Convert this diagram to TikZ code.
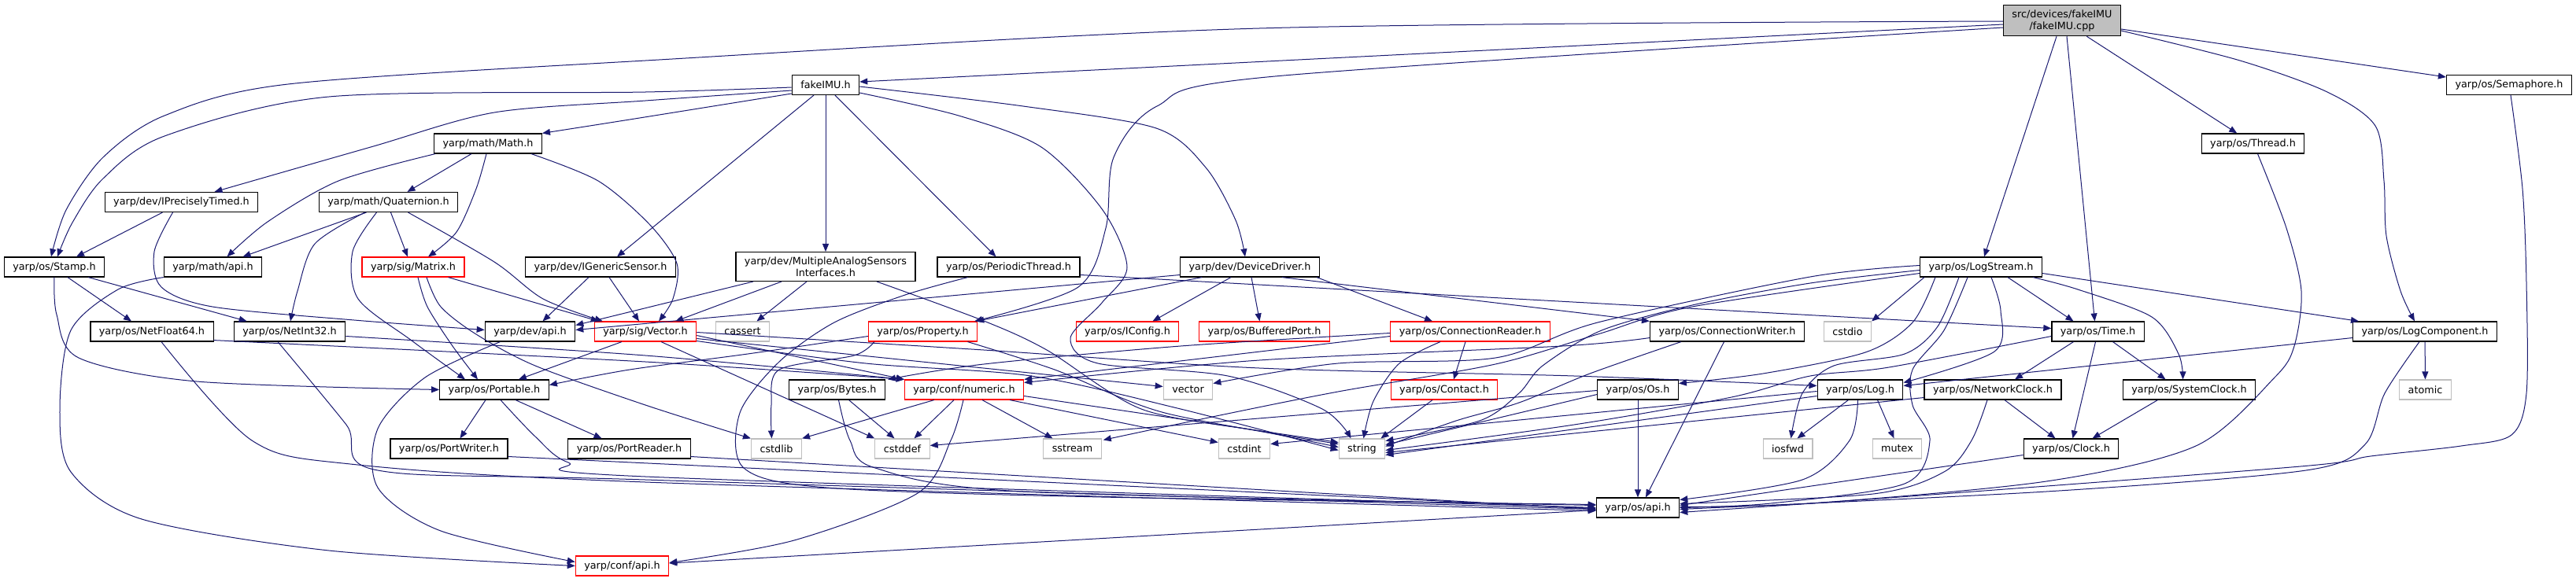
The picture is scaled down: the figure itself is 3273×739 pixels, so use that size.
\documentclass[tikz,border=0pt]{standalone}
\usepackage{fontspec}
\setmainfont{DejaVu Sans}
\usetikzlibrary{arrows.meta,calc}
\definecolor{edgeblue}{RGB}{25,25,112}
\definecolor{truncred}{RGB}{255,0,0}
\definecolor{sysgray}{RGB}{191,191,191}
\tikzset{
  hdr/.style={draw=black, line width=0.35mm, fill=white, minimum height=7.5mm,
    inner xsep=3.3mm, inner ysep=1.8mm, align=center,
    font=\fontsize{10.9}{12.8}\selectfont},
  trunc/.style={hdr, draw=truncred},
  sys/.style={hdr, draw=sysgray},
  mainfile/.style={hdr, fill=sysgray},
  dep/.style={draw=edgeblue, line width=0.3mm, -{Triangle[length=3mm,width=2.4mm]}},
}

\begin{document}
\begin{tikzpicture}[x=0.3mm,y=-0.3mm]
\useasboundingbox (0,0) rectangle (3273,739);
% rows of headers
\node[mainfile] (main) at (2620,26) {src/devices/fakeIMU\\/fakeIMU.cpp};
\node[hdr] (fakeimu) at (1049,108) {fakeIMU.h};
\node[hdr] (semaphore) at (3188,108) {yarp/os/Semaphore.h};
\node[hdr] (math) at (620,182.5) {yarp/math/Math.h};
\node[hdr] (thread) at (2862.5,182.5) {yarp/os/Thread.h};
\node[hdr] (iprecise) at (230.5,257) {yarp/dev/IPreciselyTimed.h};
\node[hdr] (quat) at (493.5,257) {yarp/math/Quaternion.h};
\node[hdr] (stamp) at (69,339.5) {yarp/os/Stamp.h};
\node[hdr] (mathapi) at (270.5,339.5) {yarp/math/api.h};
\node[trunc] (matrix) at (525,339.5) {yarp/sig/Matrix.h};
\node[hdr] (igeneric) at (763,339.5) {yarp/dev/IGenericSensor.h};
\node[hdr] (multi) at (1049,339) {yarp/dev/MultipleAnalogSensors\\Interfaces.h};
\node[hdr] (periodic) at (1281.5,339.5) {yarp/os/PeriodicThread.h};
\node[hdr] (devdriver) at (1588,339.5) {yarp/dev/DeviceDriver.h};
\node[hdr] (logstream) at (2517,339.5) {yarp/os/LogStream.h};
\node[hdr] (netfloat) at (193,421.5) {yarp/os/NetFloat64.h};
\node[hdr] (netint) at (368,421.5) {yarp/os/NetInt32.h};
\node[hdr] (devapi) at (673.5,421.5) {yarp/dev/api.h};
\node[trunc] (sigvector) at (820,421.5) {yarp/sig/Vector.h};
\node[sys] (cassert) at (943.5,421.5) {cassert};
\node[trunc] (property) at (1172.5,421.5) {yarp/os/Property.h};
\node[trunc] (iconfig) at (1432.5,421.5) {yarp/os/IConfig.h};
\node[trunc] (buffered) at (1606.5,421.5) {yarp/os/BufferedPort.h};
\node[trunc] (connreader) at (1868,421.5) {yarp/os/ConnectionReader.h};
\node[hdr] (connwriter) at (2194.5,421.5) {yarp/os/ConnectionWriter.h};
\node[sys] (cstdio) at (2347.5,421.5) {cstdio};
\node[hdr] (time) at (2665.5,421.5) {yarp/os/Time.h};
\node[hdr] (logcomp) at (3081,421.5) {yarp/os/LogComponent.h};
\node[hdr] (portable) at (628,495.5) {yarp/os/Portable.h};
\node[hdr] (bytes) at (1063.5,495.5) {yarp/os/Bytes.h};
\node[trunc] (numeric) at (1225,495.5) {yarp/conf/numeric.h};
\node[sys] (stdvector) at (1509.5,495.5) {vector};
\node[trunc] (contact) at (1835,495.5) {yarp/os/Contact.h};
\node[hdr] (os) at (2081,495.5) {yarp/os/Os.h};
\node[hdr] (log) at (2363.5,495.5) {yarp/os/Log.h};
\node[hdr] (netclock) at (2532,495.5) {yarp/os/NetworkClock.h};
\node[hdr] (sysclock) at (2781.5,495.5) {yarp/os/SystemClock.h};
\node[sys] (atomic) at (3081.5,495.5) {atomic};
\node[hdr] (portwriter) at (570.5,570.5) {yarp/os/PortWriter.h};
\node[hdr] (portreader) at (799.5,570.5) {yarp/os/PortReader.h};
\node[sys] (cstdlib) at (986.5,570.5) {cstdlib};
\node[sys] (cstddef) at (1146.5,570.5) {cstddef};
\node[sys] (sstream) at (1362.5,570.5) {sstream};
\node[sys] (cstdint) at (1581,570.5) {cstdint};
\node[sys] (string) at (1730.5,570.5) {string};
\node[sys] (iosfwd) at (2271.5,570.5) {iosfwd};
\node[sys] (mutex) at (2410.5,570.5) {mutex};
\node[hdr] (clock) at (2631.5,570.5) {yarp/os/Clock.h};
\node[hdr] (osapi) at (2081,645.5) {yarp/os/api.h};
\node[trunc] (confapi) at (790.5,719.5) {yarp/conf/api.h};

% fakeIMU.cpp
\draw[dep] ($(main.west)+(0,5)$) -- ($(fakeimu.east)+(0,-4)$);
\draw[dep] plot[smooth] coordinates {($(main.west)+(0,1)$) (1600,36) (820,77) (366,107) (209,147) (131,200) (84,267) ($(stamp.north)+(-4,0)$)};
\draw[dep] plot[smooth] coordinates {($(main.west)+(0,9)$) (1620,97) (1470,135) (1415,200) (1405,290) (1370,365) ($(property.north east)+(-4,0)$)};
\draw[dep] ($(main.south)+(-7,0)$) -- ($(logstream.north)+(4,0)$);
\draw[dep] ($(main.south)+(6,0)$) -- ($(time.north)+(-4,0)$);
\draw[dep] (main) -- (thread);
\draw[dep] plot[smooth] coordinates {($(main.east)+(0,13)$) (2846,77) (2957,117) (3018,160) (3029,230) (3032,300) (3050,370) ($(logcomp.north)+(-13,0)$)};
\draw[dep] ($(main.east)+(0,11)$) -- ($(semaphore.west)+(0,-10)$);

% fakeIMU.h
\draw[dep] plot[smooth] coordinates {($(fakeimu.west)+(0,3)$) (820,117) (418,123) (209,173) (131,227) (92,283) ($(stamp.north)+(4,0)$)};
\draw[dep] plot[smooth] coordinates {($(fakeimu.west)+(0,7)$) (820,128) (628,143) (471,187) ($(iprecise.north)+(42,0)$)};
\draw[dep] plot[smooth] coordinates {($(fakeimu.west)+(0,11)$) (800,152) (math.north east)};
\draw[dep] ($(fakeimu.south)+(-15,0)$) -- ($(igeneric.north)+(21,0)$);
\draw[dep] (fakeimu) -- (multi);
\draw[dep] ($(fakeimu.south)+(12,0)$) -- ($(periodic.north)+(-16,0)$);
\draw[dep] plot[smooth] coordinates {($(fakeimu.east)+(0,2)$) (1300,135) (1469,163) (1532,213) (1570,280) ($(devdriver.north)+(-6,0)$)};
\draw[dep] plot[smooth] coordinates {($(fakeimu.east)+(0,10)$) (1218,147) (1323,187) (1401,267) (1432,340) (1400,385) (1360,430) (1395,462) (1560,478) (1680,520) ($(string.north)+(-14,0)$)};

% Math.h and Quaternion.h
\draw[dep] plot[smooth] coordinates {($(math.south west)+(2,0)$) (430,230) (340,282) ($(mathapi.north)+(18,0)$)};
\draw[dep] ($(math.south)+(-21,0)$) -- ($(quat.north)+(24,0)$);
\draw[dep] plot[smooth] coordinates {($(math.south)+(-2,0)$) (605,240) (580,295) ($(matrix.north)+(19,0)$)};
\draw[dep] plot[smooth] coordinates {($(math.south east)+(-14,0)$) (760,230) (825,285) (860,335) (855,380) ($(sigvector.north)+(17,0)$)};
\draw[dep] ($(quat.south)+(-28,0)$) -- ($(mathapi.north)+(38,0)$);
\draw[dep] ($(quat.south)+(3,0)$) -- ($(matrix.north)+(-7,0)$);
\draw[dep] plot[smooth] coordinates {($(quat.south)+(-30,0)$) (400,310) (378,370) ($(netint.north)+(1,0)$)};
\draw[dep] plot[smooth] coordinates {($(quat.south)+(-15,0)$) (448,320) (455,380) (523,433) ($(portable.north)+(-37,0)$)};
\draw[dep] plot[smooth] coordinates {($(quat.south)+(25,0)$) (628,333) (690,380) ($(sigvector.north west)+(11,0)$)};

% Matrix.h, IGenericSensor.h, MultipleAnalogSensorsInterfaces.h
\draw[dep] plot[smooth] coordinates {($(matrix.south)+(6,0)$) (543,390) (575,440) ($(portable.north)+(-21,0)$)};
\draw[dep] plot[smooth] coordinates {($(matrix.south)+(17,0)$) (560,390) (605,425) (680,465) (820,515) (cstdlib.north west)};
\draw[dep] ($(matrix.south east)+(-21,0)$) -- ($(sigvector.north west)+(6,0)$);
\draw[dep] ($(igeneric.south)+(-15,0)$) -- ($(devapi.north)+(16,0)$);
\draw[dep] ($(igeneric.south)+(11,0)$) -- ($(sigvector.north)+(-8,0)$);
\draw[dep] ($(multi.south)+(-92,0)$) -- ($(devapi.east)+(0,-8)$);
\draw[dep] ($(multi.south)+(-56,0)$) -- ($(sigvector.north east)+(-27,0)$);
\draw[dep] ($(multi.south)+(-24,0)$) -- ($(cassert.north)+(18,0)$);
\draw[dep] plot[smooth] coordinates {($(multi.south)+(65,0)$) (1250,408) (1330,445) (1450,520) (1600,548) ($(string.west)+(0,-2)$)};

% PeriodicThread.h, DeviceDriver.h
\draw[dep] ($(periodic.east)+(0,10)$) -- ($(time.west)+(0,-4)$);
\draw[dep] plot[smooth] coordinates {($(periodic.south)+(-52,0)$) (1150,375) (1060,410) (990,460) (940,525) (945,595) (1050,620) (1400,632) ($(osapi.west)+(0,-4)$)};
\draw[dep] ($(devdriver.west)+(0,10)$) -- ($(devapi.east)+(0,-2)$);
\draw[dep] ($(devdriver.south)+(-61,0)$) -- ($(property.north east)+(-2,0)$);
\draw[dep] ($(devdriver.south)+(-24,0)$) -- ($(iconfig.north)+(32,0)$);
\draw[dep] ($(devdriver.south)+(2,0)$) -- ($(buffered.north)+(-6,0)$);
\draw[dep] ($(devdriver.south east)+(-48,0)$) -- (connwriter.north west);
\draw[dep] ($(devdriver.south east)+(-4,0)$) -- ($(connreader.north)+(-48,0)$);

% LogStream.h
\draw[dep] ($(logstream.south)+(34,0)$) -- ($(time.north)+(-31,0)$);
\draw[dep] plot[smooth] coordinates {($(logstream.south east)+(-12,0)$) (2640,368) (2734,403) (2768,450) ($(sysclock.north)+(-8,0)$)};
\draw[dep] ($(logstream.east)+(0,8)$) -- ($(logcomp.north west)+(8,0)$);
\draw[dep] plot[smooth] coordinates {($(logstream.south)+(13,0)$) (2542,395) (2534,447) ($(log.east)+(0,-9)$)};
\draw[dep] plot[smooth] coordinates {($(logstream.south west)+(20,0)$) (2430,410) (2370,448) (2240,475) ($(os.east)+(0,-8)$)};
\draw[dep] ($(logstream.south west)+(6,0)$) -- (cstdio.north east);
\draw[dep] plot[smooth] coordinates {($(logstream.south west)+(50,0)$) (2462,415) (2420,450) (2330,465) (2290,500) ($(iosfwd.north)+(4,0)$)};
\draw[dep] plot[smooth] coordinates {($(logstream.west)+(0,4)$) (2300,360) (2150,388) (2035,420) (1960,465) (1930,500) (1880,535) ($(string.east)+(0,-10)$)};
\draw[dep] plot[smooth] coordinates {($(logstream.west)+(0,-2)$) (2300,352) (2030,410) (1900,455) (1700,462) ($(stdvector.east)+(0,-8)$)};
\draw[dep] plot[smooth] coordinates {($(logstream.west)+(0,8)$) (2150,390) (2030,425) (1900,463) (1700,498) (1550,528) ($(sstream.north east)+(2,2)$)};
\draw[dep] plot[smooth] coordinates {($(logstream.south)+(-17,0)$) (2470,420) (2430,470) (2430,515) (2452,560) (2420,615) (2250,640) (osapi.east)};

% LogComponent.h, Semaphore.h, Thread.h
\draw[dep] ($(logcomp.west)+(0,8)$) -- ($(log.east)+(0,-5)$);
\draw[dep] (logcomp) -- (atomic);
\draw[dep] plot[smooth] coordinates {($(logcomp.south)+(-7,0)$) (3030,500) (3005,565) (2930,598) (2600,625) ($(osapi.east)+(0,2)$)};
\draw[dep] plot[smooth] coordinates {($(semaphore.south)+(2,0)$) (3205,240) (3210,360) (3210,500) (3191,553) (3127,567) (3012,580) (2923,593) (2400,633) ($(osapi.east)+(0,6)$)};
\draw[dep] plot[smooth] coordinates {($(thread.south)+(6,0)$) (2905,290) (2924,370) (2915,440) (2890,480) (2790,567) (2600,612) (2300,640) ($(osapi.east)+(0,-1)$)};

% Time.h and the clocks
\draw[dep] ($(time.south)+(-31,0)$) -- ($(netclock.north)+(28,0)$);
\draw[dep] ($(time.south)+(19,0)$) -- ($(sysclock.north)+(-30,0)$);
\draw[dep] ($(time.south)+(-3,0)$) -- ($(clock.north)+(2,0)$);
\draw[dep] plot[smooth] coordinates {($(time.west)+(0,6)$) (2400,467) (2300,478) (2200,505) (2000,540) ($(string.east)+(0,2)$)};
\draw[dep] ($(netclock.south)+(15,0)$) -- ($(clock.north)+(-20,0)$);
\draw[dep] plot[smooth] coordinates {($(netclock.south)+(-7,0)$) (2505,560) (2470,600) (2380,628) ($(osapi.east)+(0,-5)$)};
\draw[dep] ($(netclock.west)+(0,10)$) -- ($(string.east)+(0,5)$);
\draw[dep] ($(sysclock.south)+(-40,0)$) -- ($(clock.north)+(27,0)$);
\draw[dep] ($(clock.west)+(0,8)$) -- ($(osapi.east)+(0,-3)$);

% Log.h, Os.h
\draw[dep] ($(log.south)+(-15,0)$) -- ($(iosfwd.north)+(12,0)$);
\draw[dep] ($(log.south)+(22,0)$) -- ($(mutex.north)+(-4,0)$);
\draw[dep] plot[smooth] coordinates {($(log.south)+(-3,0)$) (2350,560) (2290,610) ($(osapi.east)+(0,-10)$)};
\draw[dep] ($(log.west)+(0,8)$) -- ($(string.east)+(0,8)$);
\draw[dep] ($(log.west)+(0,2)$) -- ($(cstdint.east)+(0,-6)$);
\draw[dep] (os) -- (osapi);
\draw[dep] ($(os.west)+(0,6)$) -- ($(string.east)+(0,-5)$);
\draw[dep] ($(os.west)+(0,1)$) -- ($(cstddef.east)+(0,-4)$);

% ConnectionReader.h, ConnectionWriter.h, Contact.h, Property.h
\draw[dep] ($(connreader.south)+(-6,0)$) -- ($(contact.north)+(12,0)$);
\draw[dep] plot[smooth] coordinates {($(connreader.south)+(-38,0)$) (1778,462) (1745,510) ($(string.north)+(2,0)$)};
\draw[dep] ($(connreader.west)+(0,6)$) -- (numeric.north east);
\draw[dep] plot[smooth] coordinates {($(connreader.west)+(0,2)$) (1500,440) (1250,463) ($(bytes.north east)+(3,0)$)};
\draw[dep] ($(connwriter.south)+(-4,0)$) -- ($(osapi.north)+(10,0)$);
\draw[dep] plot[smooth] coordinates {($(connwriter.south west)+(40,0)$) (2020,475) (1930,512) (1850,535) ($(string.east)+(0,-3)$)};
\draw[dep] plot[smooth] coordinates {($(connwriter.west)+(0,8)$) (1985,440) (1600,458) ($(numeric.east)+(0,-9)$)};
\draw[dep] ($(contact.south)+(-15,0)$) -- ($(string.north east)+(-6,0)$);
\draw[dep] plot[smooth] coordinates {($(property.west)+(0,6)$) (950,450) (800,470) ($(portable.east)+(0,-6)$)};
\draw[dep] plot[smooth] coordinates {($(property.south)+(57,0)$) (1340,470) (1480,525) ($(string.west)+(0,-6)$)};
\draw[dep] plot[smooth] coordinates {($(property.south west)+(8,0)$) (1085,452) (990,470) (980,515) ($(cstdlib.north)+(-6,0)$)};

% Stamp.h, IPreciselyTimed.h, api headers
\draw[dep] plot[smooth] coordinates {(stamp.south) (72,400) (100,455) (250,485) (portable.west)};
\draw[dep] ($(stamp.south)+(17,0)$) -- ($(netfloat.north)+(-26,0)$);
\draw[dep] ($(stamp.south east)+(-21,0)$) -- ($(netint.north west)+(17,0)$);
\draw[dep] ($(iprecise.south)+(-24,0)$) -- ($(stamp.north)+(28,0)$);
\draw[dep] plot[smooth] coordinates {($(iprecise.south)+(-11,0)$) (196,320) (205,365) (270,390) (450,407) ($(devapi.west)+(0,-2)$)};
\draw[dep] plot[smooth] coordinates {(mathapi.south west) (150,368) (90,420) (76,520) (90,600) (180,660) (418,700) (confapi.west)};
\draw[dep] plot[smooth] coordinates {($(netfloat.south)+(12,0)$) (320,560) (445,590) (820,613) ($(osapi.west)+(0,4)$)};
\draw[dep] plot[smooth] coordinates {($(netfloat.south east)+(0,-2)$) (820,460) (numeric.north west)};
\draw[dep] plot[smooth] coordinates {($(netint.south)+(-15,0)$) (440,540) (480,598) (820,610) ($(osapi.west)+(0,2)$)};
\draw[dep] plot[smooth] coordinates {($(netint.east)+(0,6)$) (820,452) (numeric.north west)};
\draw[dep] plot[smooth] coordinates {($(devapi.south)+(-38,0)$) (540,480) (480,545) (480,620) (560,675) ($(confapi.west)+(0,-5)$)};

% Vector.h, Portable.h, Bytes.h, numeric.h
\draw[dep] ($(sigvector.south)+(-30,0)$) -- ($(portable.north east)+(-39,0)$);
\draw[dep] ($(sigvector.south)+(20,0)$) -- (cstddef.north west);
\draw[dep] ($(sigvector.east)+(0,5)$) -- (numeric.north west);
\draw[dep] ($(sigvector.east)+(0,9)$) -- ($(stdvector.west)+(0,-4)$);
\draw[dep] plot[smooth] coordinates {($(sigvector.east)+(0,12)$) (1100,462) (1310,478) (1500,520) ($(string.west)+(0,2)$)};
\draw[dep] plot[smooth] coordinates {($(sigvector.east)+(0,1)$) (1250,445) (1600,468) (2000,478) ($(log.west)+(0,-5)$)};
\draw[dep] ($(portable.south)+(-11,0)$) -- ($(portwriter.north)+(14,0)$);
\draw[dep] ($(portable.south)+(27,0)$) -- ($(portreader.north)+(-35,0)$);
\draw[dep] plot[smooth] coordinates {($(portable.south)+(8,0)$) (680,555) (722,588) (820,606) (osapi.west)};
\draw[dep] ($(portwriter.east)+(0,10)$) -- ($(osapi.west)+(0,1)$);
\draw[dep] ($(portreader.east)+(0,10)$) -- ($(osapi.west)+(0,2)$);
\draw[dep] ($(bytes.south)+(15,0)$) -- ($(cstddef.north)+(-10,0)$);
\draw[dep] plot[smooth] coordinates {($(bytes.south)+(2,0)$) (1080,560) (1112,595) (1300,625) ($(osapi.west)+(0,-3)$)};
\draw[dep] ($(numeric.south west)+(38,0)$) -- (cstdlib.north east);
\draw[dep] ($(numeric.south)+(-13,0)$) -- ($(cstddef.north)+(15,0)$);
\draw[dep] ($(numeric.south)+(23,0)$) -- ($(sstream.north)+(-25,0)$);
\draw[dep] ($(numeric.south east)+(-18,0)$) -- ($(cstdint.west)+(0,-8)$);
\draw[dep] ($(numeric.east)+(0,8)$) -- ($(string.west)+(0,-8)$);
\draw[dep] plot[smooth] coordinates {($(numeric.south)+(-1,0)$) (1208,560) (1166,627) (1009,687) ($(confapi.east)+(0,-4)$)};
\draw[dep] (osapi) -- (confapi);
\end{tikzpicture}
\end{document}
